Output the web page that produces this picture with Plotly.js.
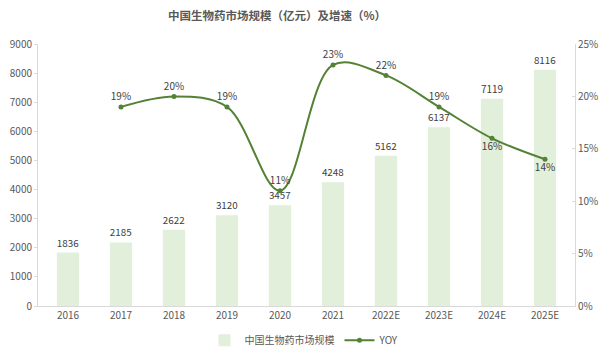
<!DOCTYPE html>
<html><head><meta charset="utf-8">
<script src="https://cdn.plot.ly/plotly-3.0.1.min.js"></script>
<style>body{margin:0;padding:0;background:#fff}#c{width:609px;height:359px}</style>
</head><body><div id="c"></div>
<script>
const years = ['2016','2017','2018','2019','2020','2021','2022E','2023E','2024E','2025E'];
const marketSize = [1836,2185,2622,3120,3457,4248,5162,6137,7119,8116];
const yoy = [null,19,20,19,11,23,22,19,16,14];
const yoyLabelPos = ['top center','top center','top center','top center','top center','top center','top center','top center','bottom center','bottom center'];
const font = "'Microsoft YaHei','Noto Sans CJK SC','Noto Sans',sans-serif";
const traces = [
  {type:'bar', x:years, y:marketSize, name:'中国生物药市场规模',
   marker:{color:'#E2EFDA'}, width:0.42,
   text:marketSize.map(String), textposition:'outside', cliponaxis:false,
   textfont:{size:10,color:'#404040',family:font}, hoverinfo:'none'},
  {type:'scatter', x:years, y:yoy.map(v=>v===null?null:v/100), yaxis:'y2', name:'YOY',
   mode:'lines+markers+text', line:{color:'#548235', width:2, shape:'spline', smoothing:1},
   marker:{color:'#548235', size:5},
   text:yoy.map(v=>v===null?'':v+'%'), textposition:yoyLabelPos, cliponaxis:false,
   textfont:{size:10,color:'#404040',family:font}, connectgaps:false}
];
const layout = {
  width:609, height:359, paper_bgcolor:'#fff', plot_bgcolor:'#fff',
  margin:{l:38, r:34, t:44, b:53, autoexpand:false},
  font:{family:font, size:10, color:'#595959'},
  title:{text:'<b>中国生物药市场规模（亿元）及增速（%）</b>', x:0.455, xanchor:'center', y:0.955, yanchor:'middle',
         font:{size:11.5, color:'#595959', family:font}},
  bargap:0.58,
  xaxis:{type:'category', showline:true, linecolor:'#D9D9D9', linewidth:1, ticks:'', showgrid:false,
         tickfont:{size:10,color:'#595959'}},
  yaxis:{range:[0,9000], dtick:1000, showline:true, linecolor:'#D9D9D9', ticks:'outside', ticklen:3,
         tickcolor:'#D9D9D9', showgrid:false, zeroline:false, tickfont:{size:10,color:'#595959'}},
  yaxis2:{range:[0,0.25], dtick:0.05, tickformat:'.0%', overlaying:'y', side:'right', showline:true,
          linecolor:'#D9D9D9', ticks:'inside', ticklen:3, tickcolor:'#D9D9D9', showgrid:false, zeroline:false,
          tickfont:{size:10,color:'#595959'}},
  showlegend:true,
  legend:{orientation:'h', x:0.5, xanchor:'center', xref:'container', yref:'container', y:0.052, yanchor:'middle',
          font:{size:10,color:'#595959'}, traceorder:'normal'}
};
Plotly.newPlot('c', traces, layout, {displayModeBar:false, staticPlot:true});
</script></body></html>
